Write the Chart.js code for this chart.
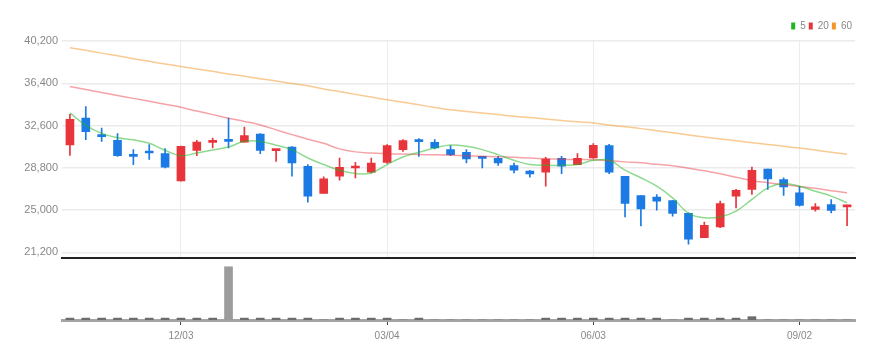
<!DOCTYPE html>
<html>
<head>
<meta charset="utf-8">
<script src="https://cdn.jsdelivr.net/npm/chart.js@4.4.1/dist/chart.umd.min.js"></script>
<style>
    html, body { margin: 0; padding: 0; background: #fff; }
    #wrap { position: relative; width: 892px; height: 360px; }
    #priceBox { position: absolute; left: 0; top: 0; width: 892px; height: 269px; }
    #volBox { position: absolute; left: 0; top: 259px; width: 892px; height: 101px; }
</style>
</head>
<body>
<div id="wrap">
    <div id="priceBox"><canvas id="priceChart"></canvas></div>
    <div id="volBox"><canvas id="volumeChart"></canvas></div>
</div>
<script>
// weekly candles
const weeks = ['10/15', '10/22', '10/29', '11/05', '11/12', '11/19', '11/26', '12/03', '12/10', '12/17',
    '12/24', '12/31', '01/07', '01/14', '01/21', '01/28', '02/04', '02/11', '02/18', '02/25',
    '03/04', '03/11', '03/18', '03/25', '04/01', '04/08', '04/15', '04/22', '04/29', '05/06',
    '05/13', '05/20', '05/27', '06/03', '06/10', '06/17', '06/24', '07/01', '07/08', '07/15',
    '07/22', '07/29', '08/05', '08/12', '08/19', '08/26', '09/02', '09/09', '09/16', '09/23'];
const shownDates = ['12/03', '03/04', '06/03', '09/02'];
const yTicks = [21200, 25000, 28800, 32600, 36400, 40200];

const openPrices = [30860, 33260, 31740, 31270, 29950, 30250, 30070, 27620, 30370, 31090,
    31330, 31110, 31830, 30340, 30660, 28940, 26490, 28040, 28780, 28400,
    29290, 30430, 31330, 31090, 30430, 30190, 29770, 29650, 29000, 28510,
    28400, 29650, 29090, 29680, 30790, 28040, 26310, 26160, 25860, 24700,
    22510, 23470, 26250, 26850, 28690, 27740, 26540, 25060, 25500, 25290];
const highPrices = [33600, 34310, 32370, 31870, 30430, 30880, 30520, 30760, 31270, 31470,
    33260, 32460, 31870, 30460, 30700, 29090, 27980, 29680, 29290, 29680,
    30880, 31330, 31420, 31330, 30790, 30430, 29770, 29830, 29230, 28580,
    29740, 29830, 30070, 30970, 30910, 28040, 26310, 26400, 25860, 24750,
    23920, 25800, 26850, 28870, 28690, 27890, 27140, 25590, 25950, 25440];
const lowPrices = [29920, 31330, 31180, 29830, 29090, 29540, 28780, 27590, 29890, 30580,
    30580, 31110, 30070, 29380, 28040, 25710, 26490, 27680, 27890, 28330,
    29200, 30280, 29830, 30490, 29890, 29230, 28780, 29020, 28330, 27950,
    27140, 28280, 29090, 29650, 28280, 24390, 23560, 24990, 24450, 21920,
    22510, 23410, 25200, 26400, 26850, 26310, 25350, 24900, 24750, 23600];
const closePrices = [33150, 32050, 31600, 29890, 29830, 30130, 28850, 30730, 31110, 31270,
    31180, 31690, 30370, 30460, 29230, 26250, 27800, 28850, 28940, 29230,
    30790, 31240, 31150, 30580, 29980, 29590, 29650, 29230, 28580, 28250,
    29590, 28940, 29650, 30820, 28400, 25590, 25110, 25800, 24700, 22370,
    23620, 25590, 26780, 28580, 27800, 27080, 25410, 25290, 24960, 25440];

const ma5 = [33730, 32610, 31890, 31490, 31310, 31000, 30370, 29880, 30130, 30400,
    30660, 31180, 31170, 30820, 30430, 29680, 29090, 28580, 28280, 28330,
    29090, 29770, 30190, 30580, 30840, 30730, 30430, 29980, 29470, 29090,
    29020, 29020, 29090, 29470, 29470, 28580, 27900, 27140, 26090, 24700,
    24300, 24390, 24900, 25950, 26990, 27380, 27140, 26690, 26250, 25650];
const ma20 = [36100, 35840, 35570, 35300, 35040, 34780, 34510, 34240, 33900, 33580,
    33260, 32970, 32650, 32210, 31780, 31370, 31000, 30500, 30230, 30120,
    30070, 30030, 29990, 29960, 29920, 29880, 29830, 29790, 29740, 29670,
    29610, 29570, 29540, 29530, 29430, 29330, 29250, 29110, 28980, 28760,
    28530, 28260, 27950, 27640, 27460, 27280, 27120, 26950, 26740, 26560];
const ma60 = [39600, 39360, 39110, 38870, 38610, 38370, 38130, 37900, 37680, 37470,
    37240, 37030, 36810, 36600, 36370, 36170, 35890, 35650, 35400, 35160,
    34920, 34690, 34460, 34230, 34010, 33860, 33720, 33580, 33440, 33310,
    33180, 33060, 32930, 32820, 32650, 32480, 32320, 32130, 31950, 31750,
    31560, 31390, 31230, 31060, 30900, 30730, 30570, 30390, 30200, 30010];

const volumes = [4000, 4000, 4000, 4000, 4000, 4000, 4000, 4000, 4000, 4000,
    112000, 4000, 4000, 4000, 4000, 4000, 0, 4000, 4000, 4000,
    4000, 0, 4000, 0, 0, 0, 0, 0, 0, 0,
    4000, 4000, 4000, 4000, 4000, 4000, 4000, 4000, 0, 4000,
    4000, 4000, 4000, 7000, 0, 0, 0, 0, 0, 0];

const upColor = '#e8343b';
const downColor = '#1b7ae3';
const legendColors = ['#22b522', '#e8343b', '#f5962a'];
const lineColors = ['rgba(34,181,34,0.5)', 'rgba(232,52,59,0.45)', 'rgba(245,150,42,0.5)'];
const narrowFont = "'Liberation Sans Narrow', 'Liberation Sans', sans-serif";

function candleColor(ctx) {
    const i = ctx.dataIndex;
    return closePrices[i] >= openPrices[i] ? upColor : downColor;
}

function dateLabel(i) {
    return shownDates.includes(weeks[i]) ? weeks[i] : '';
}

const wickData = weeks.map((w, i) => [lowPrices[i], highPrices[i]]);
const bodyData = weeks.map((w, i) => [openPrices[i], closePrices[i]]);

const priceCtx = document.getElementById('priceChart').getContext('2d');
const priceChart = new Chart(priceCtx, {
    type: 'bar',
    data: {
        labels: weeks,
        datasets: [
            { type: 'line', label: '5', data: ma5, borderColor: lineColors[0], backgroundColor: legendColors[0],
              borderWidth: 1.5, pointRadius: 0, tension: 0.4, order: 1 },
            { type: 'line', label: '20', data: ma20, borderColor: lineColors[1], backgroundColor: legendColors[1],
              borderWidth: 1.5, pointRadius: 0, tension: 0.4, order: 1 },
            { type: 'line', label: '60', data: ma60, borderColor: lineColors[2], backgroundColor: legendColors[2],
              borderWidth: 1.5, pointRadius: 0, tension: 0.4, order: 1 },
            { label: 'wick', data: wickData, backgroundColor: candleColor, barThickness: 1,
              grouped: false, order: 3 },
            { label: 'body', data: bodyData, backgroundColor: candleColor, barThickness: 8,
              minBarLength: 2, grouped: false, order: 2 }
        ]
    },
    options: {
        responsive: true,
        maintainAspectRatio: false,
        animation: false,
        layout: { padding: { left: 0, right: 37, top: 18, bottom: 1 } },
        plugins: {
            tooltip: { enabled: false },
            legend: {
                position: 'top',
                align: 'end',
                labels: {
                    boxWidth: 4,
                    boxHeight: 7,
                    padding: 3,
                    color: '#888',
                    font: { family: narrowFont, size: 10 },
                    generateLabels: chart => chart.data.datasets.slice(0, 3).map((ds, i) => ({
                        text: ds.label,
                        fillStyle: legendColors[i],
                        strokeStyle: legendColors[i],
                        lineWidth: 0,
                        fontColor: '#888',
                        datasetIndex: i
                    }))
                }
            }
        },
        scales: {
            x: {
                offset: true,
                afterFit: scale => { scale.height = 1; },
                ticks: { display: false },
                grid: {
                    offset: false,
                    drawTicks: false,
                    color: ctx => dateLabel(ctx.index) ? '#ececec' : 'rgba(0,0,0,0)',
                    lineWidth: 1
                },
                border: { display: true, color: '#222', width: 2 }
            },
            y: {
                min: 20650,
                max: 40200,
                afterBuildTicks: scale => { scale.ticks = yTicks.map(v => ({ value: v })); },
                afterFit: scale => { scale.width = 62; },
                ticks: {
                    color: '#888',
                    padding: 4,
                    font: { family: narrowFont, size: 11 },
                    callback: v => v.toLocaleString('en-US')
                },
                grid: { color: '#ebebeb', lineWidth: 1.5, drawTicks: false },
                border: { display: false }
            }
        }
    }
});

const volumeCtx = document.getElementById('volumeChart').getContext('2d');
const volumeChart = new Chart(volumeCtx, {
    type: 'bar',
    data: {
        labels: weeks,
        datasets: [{
            label: 'volume',
            data: volumes,
            backgroundColor: ctx => ctx.raw > 20000 ? '#9c9c9c' : '#6c6c6c',
            barThickness: 8
        }]
    },
    options: {
        responsive: true,
        maintainAspectRatio: false,
        animation: false,
        layout: { padding: { left: 62, right: 37, top: 3, bottom: 13 } },
        plugins: { legend: { display: false }, tooltip: { enabled: false } },
        scales: {
            x: {
                offset: true,
                grid: {
                    offset: false,
                    drawOnChartArea: false,
                    tickLength: 5,
                    tickColor: ctx => dateLabel(ctx.index) ? '#444' : 'rgba(0,0,0,0)'
                },
                border: { display: true, color: '#a4a4a4', width: 3 },
                ticks: {
                    autoSkip: false,
                    maxRotation: 0,
                    padding: 5,
                    color: '#888',
                    font: { family: narrowFont, size: 10 },
                    callback: (v, i) => dateLabel(i)
                }
            },
            y: { display: false, min: 0, max: 122000 }
        }
    }
});
</script>
</body>
</html>
